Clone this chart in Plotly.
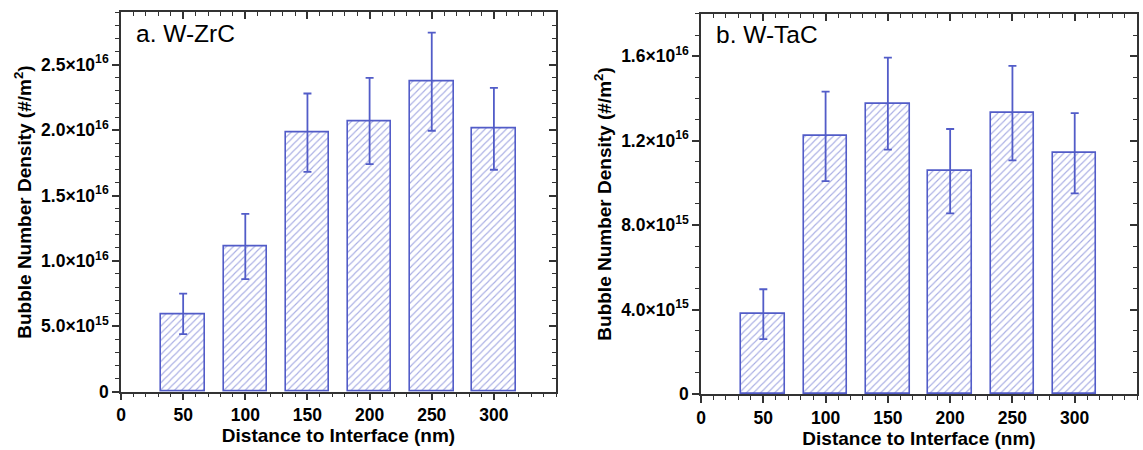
import plotly.graph_objects as go

# ---- data ----
distance = [50, 100, 150, 200, 250, 300]

zrc_density = [5.95e15, 1.11e16, 1.98e16, 2.07e16, 2.37e16, 2.01e16]
zrc_error = [1.55e15, 2.5e15, 3.0e15, 3.3e15, 3.75e15, 3.13e15]

tac_density = [3.78e15, 1.22e16, 1.375e16, 1.055e16, 1.33e16, 1.14e16]
tac_error = [1.18e15, 2.12e15, 2.18e15, 2.0e15, 2.24e15, 1.9e15]

zrc_ytickvals = [0, 5e15, 1e16, 1.5e16, 2e16, 2.5e16]
zrc_yticktext = ["0", "5.0×10<sup>15</sup>", "1.0×10<sup>16</sup>", "1.5×10<sup>16</sup>",
                 "2.0×10<sup>16</sup>", "2.5×10<sup>16</sup>"]
tac_ytickvals = [0, 4e15, 8e15, 1.2e16, 1.6e16]
tac_yticktext = ["0", "4.0×10<sup>15</sup>", "8.0×10<sup>15</sup>", "1.2×10<sup>16</sup>",
                 "1.6×10<sup>16</sup>"]
xtickvals = [0, 50, 100, 150, 200, 250, 300]

panel_labels = ["a. W-ZrC", "b. W-TaC"]
x_title = "Distance to Interface (nm)"
y_title = "Bubble Number Density (#/m<sup>2</sup>)"

# ---- style ----
BLUE = "rgb(82,92,200)"
AXC = "#333333"
FONT = "Liberation Sans, Arial, Helvetica, sans-serif"
BAR_W = 35

fig = go.Figure()

def add_panel(idx, dens, err):
    xa = "x" if idx == 1 else "x2"
    ya = "y" if idx == 1 else "y2"
    fig.add_trace(go.Bar(
        x=distance, y=dens, width=BAR_W, xaxis=xa, yaxis=ya,
        marker=dict(color="white", line=dict(color=BLUE, width=1.6),
                    pattern=dict(shape="/", fgcolor=BLUE, bgcolor="white",
                                 size=5, solidity=0.22)),
        error_y=dict(type="data", array=err, visible=True, color=BLUE,
                     thickness=1.8, width=4),
        showlegend=False, hoverinfo="skip"))

add_panel(1, zrc_density, zrc_error)
add_panel(2, tac_density, tac_error)

# empty traces to activate overlay (top/right) axes
fig.add_trace(go.Scatter(x=[], y=[], xaxis="x3", yaxis="y3", showlegend=False))
fig.add_trace(go.Scatter(x=[], y=[], xaxis="x4", yaxis="y4", showlegend=False))

tickfont = dict(family=FONT, size=17.5, color="black", weight="bold")
titlefont = dict(family=FONT, size=19, color="black", weight="bold")

def xaxis_main(domain, anchor):
    return dict(domain=domain, anchor=anchor, range=[0, 350],
                tickvals=xtickvals, ticktext=[str(v) for v in xtickvals],
                ticks="outside", ticklen=7, tickwidth=1.5, tickcolor=AXC,
                minor=dict(dtick=10, tick0=0, ticks="outside", ticklen=4,
                           tickwidth=1.2, tickcolor=AXC),
                showline=True, linecolor=AXC, linewidth=1.5, showgrid=False,
                zeroline=False, tickfont=tickfont,
                title=dict(text=x_title, font=titlefont, standoff=4))

def yaxis_main(domain, anchor, rng, vals, text):
    return dict(domain=domain, anchor=anchor, range=rng,
                tickvals=vals, ticktext=text,
                ticks="outside", ticklen=7, tickwidth=1.5, tickcolor=AXC,
                minor=dict(dtick=1e15, tick0=0, ticks="outside", ticklen=4,
                           tickwidth=1.2, tickcolor=AXC),
                showline=True, linecolor=AXC, linewidth=1.5, showgrid=False,
                zeroline=False, tickfont=tickfont,
                title=dict(text=y_title, font=titlefont, standoff=4))

def xaxis_top(over, anchor, domain):
    return dict(overlaying=over, anchor=anchor, side="top", range=[0, 350], domain=domain,
                tickvals=xtickvals, showticklabels=False,
                ticks="inside", ticklen=7, tickwidth=1.5, tickcolor=AXC,
                minor=dict(dtick=10, tick0=0, ticks="inside", ticklen=4,
                           tickwidth=1.2, tickcolor=AXC),
                showline=True, linecolor=AXC, linewidth=1.5, showgrid=False,
                zeroline=False)

def yaxis_right(over, anchor, rng, vals, domain):
    return dict(overlaying=over, anchor=anchor, side="right", range=rng, domain=domain,
                tickvals=vals, showticklabels=False,
                ticks="inside", ticklen=7, tickwidth=1.5, tickcolor=AXC,
                minor=dict(dtick=1e15, tick0=0, ticks="inside", ticklen=4,
                           tickwidth=1.2, tickcolor=AXC),
                showline=True, linecolor=AXC, linewidth=1.5, showgrid=False,
                zeroline=False)

dx1 = [0.0, 0.4282]
dx2 = [0.5709, 1.0]
dy1 = [0.006, 0.999]
dy2 = [0.0, 0.995]

fig.update_layout(
    width=1143, height=450,
    margin=dict(l=121, r=6, t=12, b=56, autoexpand=False),
    paper_bgcolor="white", plot_bgcolor="white",
    font=dict(family=FONT, color="black"),
    bargap=0,
    xaxis=xaxis_main(dx1, "y"),
    yaxis=yaxis_main(dy1, "x", [0, 2.9e16], zrc_ytickvals, zrc_yticktext),
    xaxis2=xaxis_main(dx2, "y2"),
    yaxis2=yaxis_main(dy2, "x2", [0, 1.8e16], tac_ytickvals, tac_yticktext),
    xaxis3=xaxis_top("x", "y3", dx1),
    yaxis3=yaxis_right("y", "x3", [0, 2.9e16], zrc_ytickvals, dy1),
    xaxis4=xaxis_top("x2", "y4", dx2),
    yaxis4=yaxis_right("y2", "x4", [0, 1.8e16], tac_ytickvals, dy2),
)

fig.add_annotation(text=panel_labels[0], xref="x domain", yref="y domain",
                   x=0.03, y=0.945, xanchor="left", yanchor="middle",
                   showarrow=False, font=dict(family=FONT, size=24.5, color="black"))
fig.add_annotation(text=panel_labels[1], xref="x2 domain", yref="y2 domain",
                   x=0.03, y=0.945, xanchor="left", yanchor="middle",
                   showarrow=False, font=dict(family=FONT, size=24.5, color="black"))

fig.write_html("out.html", config={"displayModeBar": False},
               post_script="document.body.style.margin='0px';")
